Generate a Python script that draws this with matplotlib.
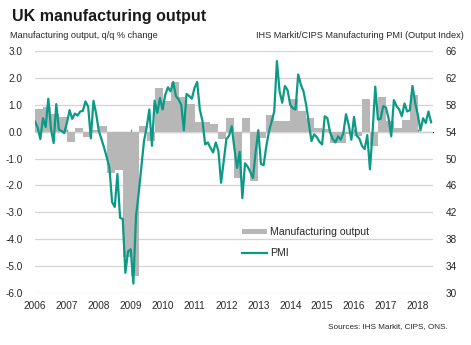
import numpy as np
import matplotlib
matplotlib.use("Agg")
import matplotlib.pyplot as plt

# ============================================================
# 1. DATA
# ============================================================
# quarterly manufacturing output, q/q % change, 2006 Q1 .. 2017 Q4
output_q = [
    0.83, 0.92, 0.64, 0.55,     # 2006
    -0.37, 0.15, -0.20, 0.05,   # 2007
    0.20, -1.52, -1.44, -4.65,  # 2008
    -5.35, 0.20, -0.35, 1.62,   # 2009
    1.15, 1.85, 1.30, 1.02,     # 2010
    0.35, 0.35, 0.27, -0.27,    # 2011
    0.52, -1.72, 0.52, -1.82,   # 2012
    -0.25, 0.62, 0.40, 0.40,    # 2013
    1.20, 0.77, 0.50, 0.15,     # 2014
    0.10, -0.42, -0.42, -0.10,  # 2015
    -0.15, 1.22, -0.52, 1.30,   # 2016
    0.40, 0.15, 0.42, 1.38,     # 2017
]

# monthly PMI output index, Jan 2006 .. Jun 2018
pmi = [
    55.5, 54.6, 52.9, 56.0, 54.7, 58.9, 54.5, 52.3, 58.1, 54.3, 54.1, 53.8,  # 2006
    55.3, 57.2, 55.9, 56.7, 56.4, 57.0, 57.1, 58.5, 57.7, 53.0, 58.6, 56.7,  # 2007
    54.1, 52.9, 51.6, 50.2, 48.6, 43.5, 42.8, 47.7, 41.2, 41.0, 33.0, 36.2,  # 2008
    36.5, 31.4, 41.5, 44.8, 48.7, 52.6, 54.6, 57.3, 51.9, 58.6, 56.8, 59.0,  # 2009
    57.3, 59.5, 60.6, 60.0, 61.4, 59.3, 58.8, 58.0, 54.2, 59.6, 59.3, 58.9,  # 2010
    60.5, 61.4, 57.3, 55.6, 52.1, 52.4, 51.6, 50.9, 52.4, 51.1, 46.4, 49.6,  # 2011
    52.9, 53.4, 54.8, 51.5, 48.6, 51.0, 44.1, 49.3, 48.8, 48.0, 47.1, 51.0,  # 2012
    54.2, 49.2, 49.0, 51.8, 54.0, 55.5, 57.0, 64.5, 60.0, 58.3, 60.8, 60.2,  # 2013
    58.0, 57.5, 57.3, 62.5, 61.0, 60.0, 58.0, 55.3, 52.6, 53.6, 53.2, 52.5,  # 2014
    52.1, 56.3, 56.0, 53.9, 52.9, 52.4, 53.3, 52.8, 53.8, 56.6, 55.0, 52.8,  # 2015
    56.2, 53.4, 53.0, 51.9, 51.4, 53.5, 48.4, 54.0, 60.7, 55.8, 55.9, 57.8,  # 2016
    57.6, 56.0, 53.3, 58.7, 57.8, 57.3, 56.3, 58.2, 57.0, 57.2, 60.8, 58.3,  # 2017
    56.5, 54.2, 56.0, 55.3, 57.0, 55.4,                                      # 2018
]

years = list(range(2006, 2019))
left_ticks = [3, 2, 1, 0, -1, -2, -3, -4, -5, -6]
right_ticks = [66, 62, 58, 54, 50, 46, 42, 38, 34, 30]

x_q = 2006 + np.arange(len(output_q)) * 0.25
x_m = 2006 + np.arange(len(pmi)) / 12.0

# ============================================================
# 2. FIGURE
# ============================================================
plt.rcParams['font.family'] = ['Liberation Sans', 'DejaVu Sans']
grey_txt = '#262626'
bar_col = '#b7b7b7'
pmi_col = '#0c9a86'

fig = plt.figure(figsize=(4.71, 3.45), dpi=100)
ax = fig.add_axes([35 / 471, 52 / 345, 398 / 471, 242 / 345])

ax.bar(x_q, output_q, width=0.25, align='edge', color=bar_col,
       linewidth=0, label='Manufacturing output', zorder=2)
ax.set_ylim(-6, 3)
ax.set_xlim(2006, 2006 + 398 / 31.9)
ax.set_yticks(left_ticks)
ax.set_yticklabels([f'{v:.1f}' for v in left_ticks])
ax.grid(axis='y', color='#d4d4d4', linewidth=0.9, zorder=0)
ax.set_xticks(years)
ax.set_xticklabels([str(y) for y in years])
ax.tick_params(axis='both', length=0, labelsize=7.2, colors=grey_txt)
ax.tick_params(axis='y', pad=9)
ax.tick_params(axis='x', pad=6)
for s in ax.spines.values():
    s.set_visible(False)

# zero line with small year ticks
zero = ax.secondary_xaxis(6 / 9)
zero.set_xticks(years)
zero.set_xticklabels([])
zero.tick_params(length=2.5, width=0.8, color='#8c8c8c', direction='out')
zero.spines['bottom'].set_color('#8c8c8c')
zero.spines['bottom'].set_linewidth(0.9)

ax2 = ax.twinx()
ax2.plot(x_m, pmi, color=pmi_col, linewidth=1.6, label='PMI', zorder=3)
ax2.set_ylim(30, 66)
ax2.set_yticks(right_ticks)
ax2.tick_params(axis='y', length=0, labelsize=7.2, colors=grey_txt, pad=9)
for s in ax2.spines.values():
    s.set_visible(False)

# legend
h1, l1 = ax.get_legend_handles_labels()
h2, l2 = ax2.get_legend_handles_labels()
leg = ax2.legend(h1 + h2, l1 + l2, loc='upper left',
                 bbox_to_anchor=(0.495, 0.31), frameon=False,
                 fontsize=7.6, handlelength=2.4, handleheight=0.35,
                 labelspacing=1.0, handletextpad=0.3)
for t in leg.get_texts():
    t.set_color(grey_txt)

# ============================================================
# 3. TEXTS
# ============================================================
fig.text(12 / 471, 1 - 16 / 345, 'UK manufacturing output', fontsize=11.5,
         fontweight='bold', color='#1a1a1a', va='center', ha='left')
fig.text(10 / 471, 1 - 35 / 345, 'Manufacturing output, q/q % change',
         fontsize=6.6, color=grey_txt, va='center', ha='left')
fig.text(464 / 471, 1 - 35 / 345,
         'IHS Markit/CIPS Manufacturing PMI (Output Index)',
         fontsize=6.6, color=grey_txt, va='center', ha='right')
fig.text(448 / 471, 1 - 327 / 345, 'Sources: IHS Markit, CIPS, ONS.',
         fontsize=5.9, color=grey_txt, va='center', ha='right')

fig.savefig('out.png', dpi=100)
